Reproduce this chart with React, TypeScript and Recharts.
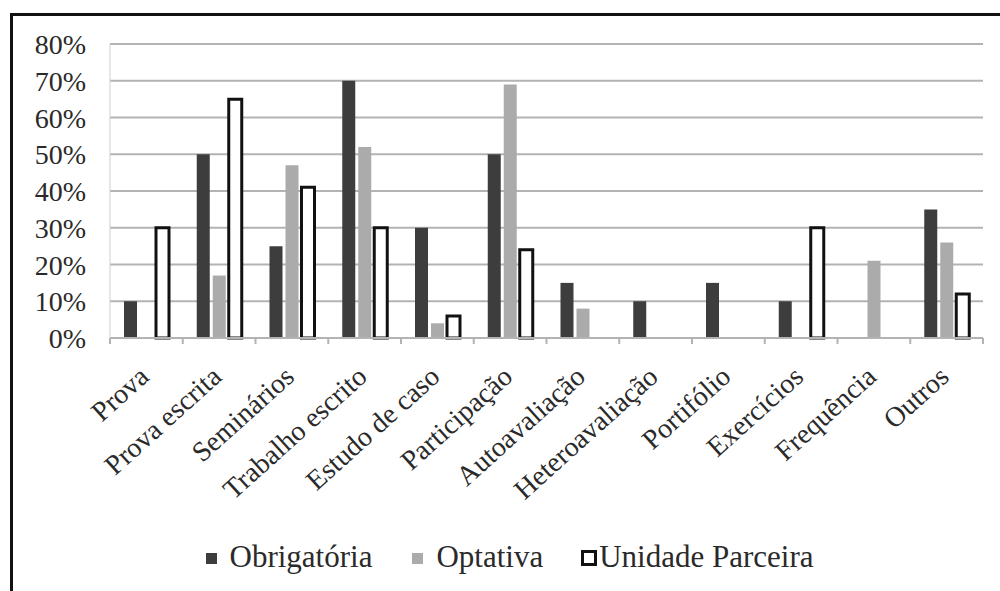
import React from "react";
import { Bar, BarChart, CartesianGrid, Legend, XAxis, YAxis } from "recharts";

const categories = [
  "Prova",
  "Prova escrita",
  "Seminários",
  "Trabalho escrito",
  "Estudo de caso",
  "Participação",
  "Autoavaliação",
  "Heteroavaliação",
  "Portifólio",
  "Exercícios",
  "Frequência",
  "Outros",
];

const obrigatoria = [10, 50, 25, 70, 30, 50, 15, 10, 15, 10, 0, 35];
const optativa = [0, 17, 47, 52, 4, 69, 8, 0, 0, 0, 21, 26];
const unidadeParceira = [30, 65, 41, 30, 6, 24, 0, 0, 0, 30, 0, 12];

const yTicks = [0, 10, 20, 30, 40, 50, 60, 70, 80];

const data = categories.map((name, i) => ({
  name,
  obrigatoria: obrigatoria[i],
  optativa: optativa[i],
  unidade: unidadeParceira[i],
}));

const FONT = "'Liberation Serif', 'Times New Roman', serif";
const TEXT = "#2a2a2a";
const GRID = "#b3b3b3";

const legendItems = [
  { label: "Obrigatória", fill: "#3d3d3d", stroke: "none", gap: 10 },
  { label: "Optativa", fill: "#ababab", stroke: "none", gap: 10 },
  { label: "Unidade Parceira", fill: "#ffffff", stroke: "#111111", gap: 2 },
];

function LegendContent() {
  return (
    <div
      style={{
        display: "flex",
        justifyContent: "center",
        alignItems: "center",
        gap: 38,
        fontFamily: FONT,
        fontSize: 31,
        lineHeight: "34px",
        color: TEXT,
        paddingLeft: 34,
      }}
    >
      {legendItems.map((it) => (
        <div key={it.label} style={{ display: "flex", alignItems: "center", gap: it.gap }}>
          <svg width={16} height={16} style={{ marginTop: 2 }}>
            {it.stroke === "none" ? (
              <rect x={2} y={3} width={11} height={11} fill={it.fill} />
            ) : (
              <rect x={1.5} y={1.5} width={13} height={13} fill={it.fill} stroke={it.stroke} strokeWidth={3} />
            )}
          </svg>
          <span>{it.label}</span>
        </div>
      ))}
    </div>
  );
}

function XTick(props: any) {
  const { x, y, payload, index, width, visibleTicksCount } = props;
  const band = width / (visibleTicksCount || categories.length);
  const ax = x + 4;
  const ay = y + 33;
  return (
    <g>
      <line x1={x - band / 2} x2={x - band / 2} y1={y - 8} y2={y - 2} stroke={GRID} strokeWidth={2} />
      {index === categories.length - 1 && (
        <line x1={x + band / 2} x2={x + band / 2} y1={y - 8} y2={y - 2} stroke={GRID} strokeWidth={2} />
      )}
      <text
        x={ax}
        y={ay}
        transform={`rotate(-42, ${ax}, ${ay})`}
        textAnchor="end"
        style={{ fontFamily: FONT, fontSize: 28, fill: TEXT }}
      >
        {payload.value}
      </text>
    </g>
  );
}

function YTick(props: any) {
  const { x, y, payload } = props;
  return (
    <text
      x={x}
      y={y}
      dy={10}
      textAnchor="end"
      style={{ fontFamily: FONT, fontSize: 28, fill: TEXT }}
    >
      {`${payload.value}%`}
    </text>
  );
}

export default function App() {
  return (
    <div
      style={{
        position: "absolute",
        left: 0,
        top: 0,
        width: 1000,
        height: 591,
        background: "#fff",
        overflow: "hidden",
      }}
    >
      <div
        style={{
          position: "absolute",
          left: 10,
          top: 13,
          width: 1010,
          height: 600,
          border: "3px solid #111",
        }}
      />
      <div style={{ position: "absolute", left: 0, top: 0 }}>
        <BarChart
          width={1000}
          height={591}
          data={data}
          margin={{ top: 44, right: 17, left: 0, bottom: 0 }}
          barSize={13}
          barGap={3}
        >
          <CartesianGrid vertical={false} stroke={GRID} strokeWidth={2} />
          <XAxis
            dataKey="name"
            interval={0}
            height={202}
            tick={<XTick />}
            tickLine={false}
            axisLine={{ stroke: GRID, strokeWidth: 2 }}
          />
          <YAxis
            width={110}
            domain={[0, 80]}
            ticks={yTicks}
            tickLine={false}
            axisLine={{ stroke: "#cfcfcf", strokeWidth: 1 }}
            tick={<YTick />}
            tickMargin={18}
          />
          <Legend verticalAlign="bottom" height={51} content={<LegendContent />} />
          <Bar dataKey="obrigatoria" name="Obrigatória" fill="#3d3d3d" isAnimationActive={false} />
          <Bar dataKey="optativa" name="Optativa" fill="#ababab" isAnimationActive={false} />
          <Bar
            dataKey="unidade"
            name="Unidade Parceira"
            fill="#ffffff"
            stroke="#111111"
            strokeWidth={3}
            isAnimationActive={false}
          />
        </BarChart>
      </div>
    </div>
  );
}
